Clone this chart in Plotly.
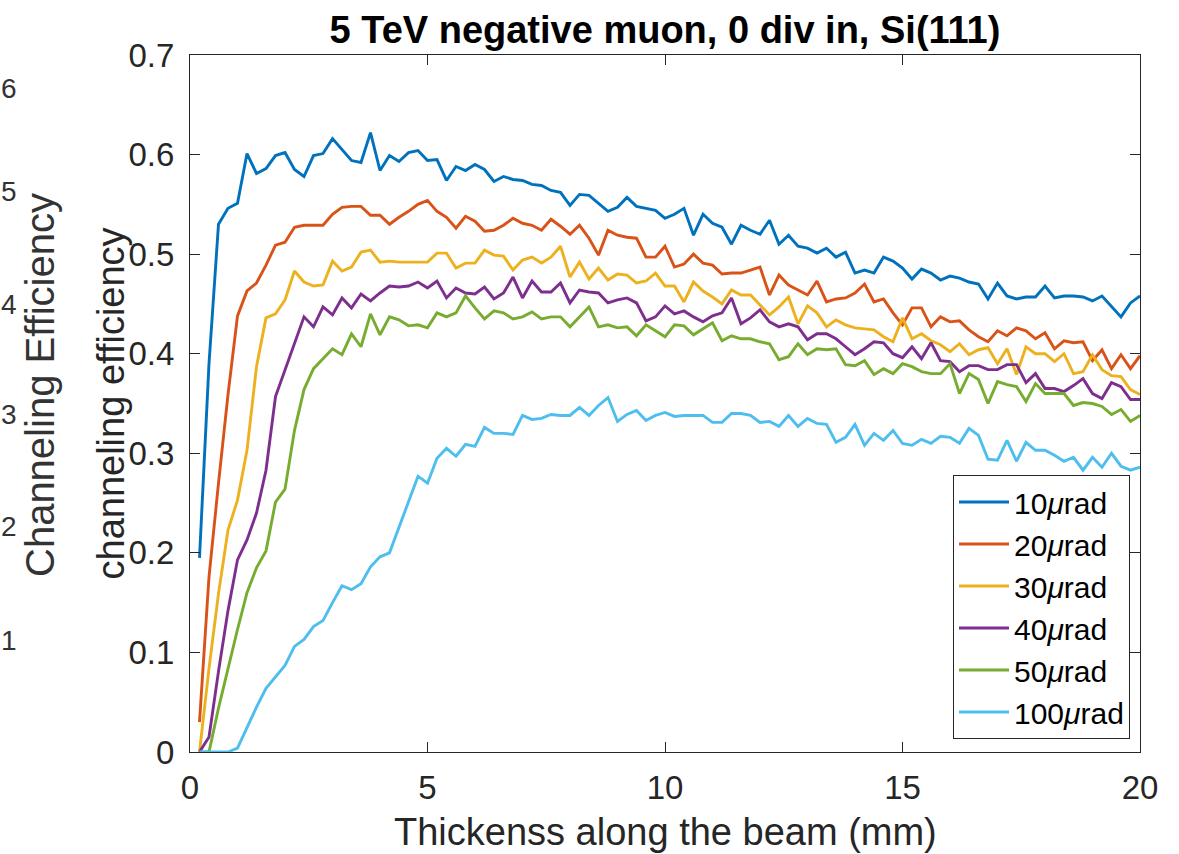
import plotly.graph_objects as go

thickness_mm = [0.2, 0.4, 0.6, 0.8, 1.0, 1.2, 1.4, 1.6, 1.8, 2.0,
                2.2, 2.4, 2.6, 2.8, 3.0, 3.2, 3.4, 3.6, 3.8, 4.0,
                4.2, 4.4, 4.6, 4.8, 5.0, 5.2, 5.4, 5.6, 5.8, 6.0,
                6.2, 6.4, 6.6, 6.8, 7.0, 7.2, 7.4, 7.6, 7.8, 8.0,
                8.2, 8.4, 8.6, 8.8, 9.0, 9.2, 9.4, 9.6, 9.8, 10.0,
                10.2, 10.4, 10.6, 10.8, 11.0, 11.2, 11.4, 11.6, 11.8, 12.0,
                12.2, 12.4, 12.6, 12.8, 13.0, 13.2, 13.4, 13.6, 13.8, 14.0,
                14.2, 14.4, 14.6, 14.8, 15.0, 15.2, 15.4, 15.6, 15.8, 16.0,
                16.2, 16.4, 16.6, 16.8, 17.0, 17.2, 17.4, 17.6, 17.8, 18.0,
                18.2, 18.4, 18.6, 18.8, 19.0, 19.2, 19.4, 19.6, 19.8, 20.0]

eff_10urad = [0.195, 0.390, 0.530, 0.546, 0.551, 0.601, 0.581, 0.586, 0.599, 0.602,
              0.585, 0.578, 0.599, 0.601, 0.616, 0.605, 0.594, 0.592, 0.622, 0.584,
              0.599, 0.593, 0.602, 0.604, 0.594, 0.595, 0.574, 0.588, 0.584, 0.590,
              0.585, 0.573, 0.578, 0.575, 0.574, 0.570, 0.569, 0.564, 0.562, 0.549,
              0.560, 0.559, 0.551, 0.543, 0.547, 0.557, 0.548, 0.546, 0.544, 0.536,
              0.540, 0.546, 0.519, 0.540, 0.531, 0.527, 0.510, 0.529, 0.524, 0.520,
              0.534, 0.510, 0.519, 0.508, 0.506, 0.501, 0.506, 0.497, 0.502, 0.481,
              0.484, 0.481, 0.497, 0.493, 0.486, 0.475, 0.485, 0.481, 0.474, 0.478,
              0.476, 0.472, 0.470, 0.455, 0.471, 0.458, 0.455, 0.457, 0.457, 0.468,
              0.456, 0.458, 0.458, 0.457, 0.453, 0.458, 0.447, 0.437, 0.451, 0.458]

eff_20urad = [0.030, 0.176, 0.270, 0.359, 0.438, 0.463, 0.471, 0.489, 0.509, 0.512,
              0.527, 0.529, 0.529, 0.529, 0.540, 0.547, 0.548, 0.548, 0.539, 0.539,
              0.530, 0.537, 0.543, 0.550, 0.554, 0.543, 0.537, 0.526, 0.538, 0.533,
              0.523, 0.524, 0.529, 0.536, 0.531, 0.529, 0.524, 0.535, 0.528, 0.520,
              0.529, 0.516, 0.499, 0.524, 0.519, 0.517, 0.516, 0.497, 0.497, 0.508,
              0.487, 0.490, 0.500, 0.491, 0.489, 0.480, 0.481, 0.481, 0.484, 0.487,
              0.459, 0.479, 0.469, 0.464, 0.459, 0.473, 0.452, 0.455, 0.456, 0.461,
              0.470, 0.452, 0.455, 0.441, 0.429, 0.446, 0.446, 0.427, 0.437, 0.432,
              0.433, 0.424, 0.417, 0.412, 0.423, 0.418, 0.426, 0.423, 0.415, 0.421,
              0.405, 0.413, 0.411, 0.412, 0.393, 0.404, 0.385, 0.399, 0.385, 0.398]

eff_30urad = [0.000, 0.084, 0.159, 0.223, 0.253, 0.303, 0.387, 0.436, 0.440, 0.454,
              0.483, 0.472, 0.468, 0.469, 0.493, 0.483, 0.487, 0.502, 0.504, 0.492,
              0.493, 0.492, 0.492, 0.492, 0.492, 0.501, 0.501, 0.486, 0.491, 0.491,
              0.504, 0.499, 0.498, 0.484, 0.494, 0.497, 0.491, 0.497, 0.508, 0.477,
              0.492, 0.475, 0.486, 0.474, 0.480, 0.479, 0.471, 0.473, 0.481, 0.468,
              0.468, 0.452, 0.472, 0.463, 0.457, 0.450, 0.464, 0.459, 0.459, 0.449,
              0.439, 0.447, 0.457, 0.430, 0.448, 0.441, 0.427, 0.434, 0.429, 0.426,
              0.425, 0.424, 0.417, 0.412, 0.436, 0.415, 0.420, 0.413, 0.409, 0.402,
              0.410, 0.399, 0.404, 0.406, 0.390, 0.405, 0.379, 0.407, 0.400, 0.400,
              0.392, 0.400, 0.380, 0.382, 0.399, 0.384, 0.378, 0.377, 0.364, 0.359]

eff_40urad = [0.000, 0.015, 0.081, 0.142, 0.193, 0.213, 0.240, 0.283, 0.357, 0.384,
              0.410, 0.437, 0.427, 0.447, 0.439, 0.456, 0.446, 0.460, 0.453, 0.461,
              0.468, 0.467, 0.468, 0.472, 0.466, 0.473, 0.456, 0.466, 0.461, 0.460,
              0.467, 0.455, 0.461, 0.477, 0.456, 0.473, 0.462, 0.462, 0.471, 0.451,
              0.464, 0.462, 0.461, 0.451, 0.454, 0.456, 0.451, 0.433, 0.437, 0.448,
              0.440, 0.443, 0.437, 0.432, 0.438, 0.441, 0.456, 0.430, 0.436, 0.444,
              0.432, 0.427, 0.430, 0.427, 0.414, 0.420, 0.420, 0.415, 0.407, 0.399,
              0.405, 0.412, 0.411, 0.400, 0.396, 0.407, 0.395, 0.411, 0.393, 0.392,
              0.382, 0.388, 0.388, 0.384, 0.384, 0.389, 0.389, 0.371, 0.380, 0.365,
              0.365, 0.362, 0.368, 0.375, 0.360, 0.355, 0.371, 0.367, 0.354, 0.354]

eff_50urad = [0.000, 0.000, 0.044, 0.085, 0.123, 0.160, 0.185, 0.202, 0.251, 0.264,
              0.323, 0.364, 0.385, 0.395, 0.405, 0.399, 0.420, 0.407, 0.440, 0.419,
              0.437, 0.434, 0.428, 0.429, 0.426, 0.441, 0.437, 0.441, 0.458, 0.446,
              0.435, 0.443, 0.441, 0.435, 0.437, 0.442, 0.435, 0.437, 0.437, 0.427,
              0.437, 0.447, 0.427, 0.429, 0.426, 0.427, 0.418, 0.429, 0.423, 0.417,
              0.429, 0.428, 0.419, 0.425, 0.431, 0.413, 0.418, 0.415, 0.415, 0.412,
              0.410, 0.394, 0.397, 0.410, 0.399, 0.405, 0.404, 0.405, 0.389, 0.388,
              0.393, 0.379, 0.385, 0.380, 0.390, 0.387, 0.382, 0.380, 0.380, 0.390,
              0.360, 0.380, 0.374, 0.350, 0.372, 0.369, 0.367, 0.352, 0.370, 0.360,
              0.360, 0.360, 0.348, 0.351, 0.350, 0.347, 0.339, 0.344, 0.332, 0.338]

eff_100urad = [0.000, 0.000, 0.000, 0.000, 0.004, 0.025, 0.045, 0.064, 0.075, 0.087,
               0.106, 0.113, 0.126, 0.132, 0.150, 0.167, 0.163, 0.169, 0.186, 0.196,
               0.200, 0.225, 0.250, 0.277, 0.270, 0.295, 0.305, 0.297, 0.309, 0.307,
               0.326, 0.320, 0.320, 0.319, 0.338, 0.334, 0.335, 0.339, 0.338, 0.338,
               0.346, 0.338, 0.348, 0.356, 0.332, 0.339, 0.343, 0.333, 0.338, 0.341,
               0.337, 0.338, 0.338, 0.338, 0.331, 0.331, 0.340, 0.340, 0.338, 0.331,
               0.332, 0.327, 0.338, 0.327, 0.335, 0.330, 0.329, 0.311, 0.316, 0.329,
               0.308, 0.320, 0.313, 0.323, 0.310, 0.308, 0.314, 0.310, 0.317, 0.316,
               0.310, 0.325, 0.318, 0.294, 0.293, 0.313, 0.292, 0.311, 0.303, 0.303,
               0.298, 0.292, 0.296, 0.283, 0.296, 0.286, 0.300, 0.287, 0.283, 0.286]

series_names = ["10<i>μ</i>rad", "20<i>μ</i>rad", "30<i>μ</i>rad",
                "40<i>μ</i>rad", "50<i>μ</i>rad", "100<i>μ</i>rad"]
series_values = [eff_10urad, eff_20urad, eff_30urad, eff_40urad, eff_50urad, eff_100urad]
series_colors = ["#0072BD", "#D95319", "#EDB120", "#7E2F8E", "#77AC30", "#4DBEEE"]

x_ticks = [0, 5, 10, 15, 20]
y_ticks = [0, 0.1, 0.2, 0.3, 0.4, 0.5, 0.6, 0.7]
y_tick_text = ["0", "0.1", "0.2", "0.3", "0.4", "0.5", "0.6", "0.7"]

# labels of a neighbouring figure seen at the left edge of the reference
remnant_digits = ["6", "5", "4", "3", "2", "1"]
remnant_y_px = [88, 192, 304, 414, 526, 640]

FONT = "Liberation Sans, Arial, Helvetica, sans-serif"
AX = "#262626"

W, H = 1179, 854
L, R, T, B = 190, 39, 55, 102
PW, PH = W - L - R, H - T - B

fig = go.Figure()
for name, vals, col in zip(series_names, series_values, series_colors):
    fig.add_trace(go.Scatter(x=thickness_mm, y=vals, mode="lines", name=name,
                             line=dict(color=col, width=2.9)))

axis_common = dict(showline=True, linecolor=AX, linewidth=1, mirror="allticks",
                   ticks="inside", ticklen=10, tickwidth=1, tickcolor=AX,
                   showgrid=False, zeroline=False,
                   tickfont=dict(family=FONT, size=33, color=AX))

fig.update_xaxes(range=[0, 20], tickvals=x_ticks, ticklabelstandoff=6, **axis_common)
fig.update_yaxes(range=[0, 0.7], tickvals=y_ticks, ticktext=y_tick_text,
                 ticklabelstandoff=8, **axis_common)

annotations = [
    dict(text="Thickenss along the beam (mm)", xref="paper", yref="paper",
         x=0.5, y=(0 - 80) / PH, xanchor="center", yanchor="middle", showarrow=False,
         font=dict(family=FONT, size=38, color=AX)),
    dict(text="channeling efficiency", xref="paper", yref="paper",
         x=(110 - L) / PW, y=0.5, xanchor="center", yanchor="middle", showarrow=False,
         textangle=-90, font=dict(family=FONT, size=38, color=AX)),
    dict(text="Channeling Efficiency", xref="paper", yref="paper",
         x=(40 - L) / PW, y=(H - B - 385) / PH, xanchor="center", yanchor="middle",
         showarrow=False, textangle=-90, font=dict(family=FONT, size=40, color="#333333")),
]
for d, ypx in zip(remnant_digits, remnant_y_px):
    annotations.append(dict(text=d, xref="paper", yref="paper",
                            x=(0 - L) / PW, y=(H - B - ypx) / PH, borderpad=0,
                            xanchor="left", yanchor="middle", showarrow=False,
                            font=dict(family=FONT, size=28, color="#333333")))

fig.update_layout(
    width=W, height=H, autosize=False,
    margin=dict(l=L, r=R, t=T, b=B, pad=0),
    paper_bgcolor="white", plot_bgcolor="white",
    title=dict(text="<b>5 TeV negative muon, 0 div in, Si(111)</b>",
               x=0.5, xref="paper", y=1 - 30 / H, yref="container",
               xanchor="center", yanchor="middle",
               font=dict(family=FONT, size=38, color="black")),
    legend=dict(x=(1130 - L) / PW, y=(H - B - 739) / PH, xanchor="right", yanchor="bottom",
                bgcolor="white", bordercolor=AX, borderwidth=1,
                font=dict(family=FONT, size=30, color="black"),
                tracegroupgap=0, itemwidth=50),
    annotations=annotations,
    showlegend=True,
)

fig.write_html("out.html")
